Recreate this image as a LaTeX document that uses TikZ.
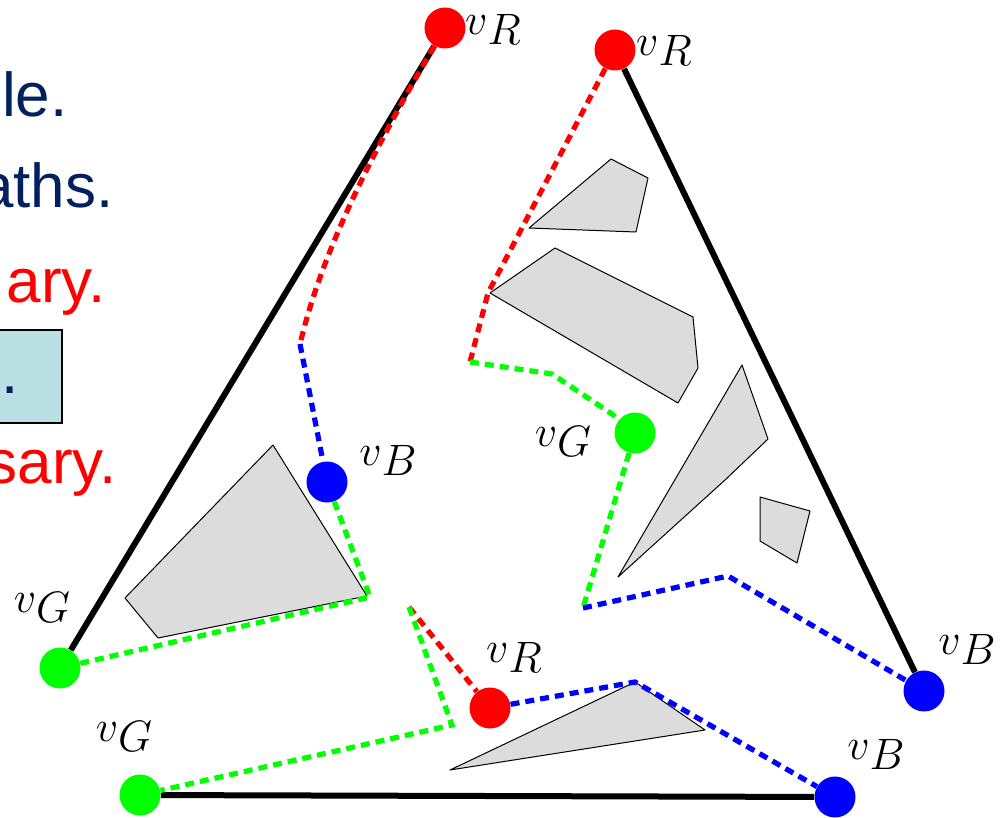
\RequirePackage{fix-cm}
\documentclass[tikz,border=0pt]{standalone}
\usepackage{fontspec}
\newfontfamily\slidefont{Liberation Sans}
\definecolor{navy}{RGB}{0,32,96}
\definecolor{boxblue}{RGB}{187,224,227}
\definecolor{obst}{RGB}{220,220,220}
\newcommand{\vsub}[1]{$v\raisebox{-5pt}{$#1$}$}

\begin{document}
\begin{tikzpicture}[x=0.5pt, y=-0.5pt,
  wall/.style={line width=3pt, black},
  obstacle/.style={draw=black, line width=0.5pt, fill=obst, line join=round},
  walk/.style={line width=2.6pt, dash pattern=on 4.5pt off 3pt},
  site/.style={circle, fill, inner sep=0pt, minimum size=20.5pt},
  vlabel/.style={font=\fontsize{22}{26}\selectfont, inner sep=0pt},
  slide/.style={font=\slidefont\fontsize{31}{37}\selectfont, inner sep=0pt, anchor=base east}]
  \useasboundingbox (0,0) rectangle (1006,818);

  % text lines on the left
  \node[slide, text=navy] (t1) at (68,117) {le.};
  \node[slide, text=navy] (t2) at (114,208) {aths.};
  \node[slide, text=red] (t3) at (106,302) {ary.};
  \node[slide, text=navy, anchor=east, draw=black, line width=1pt, fill=boxblue,
        inner xsep=21.5pt, text height=31.5pt, text depth=15pt] (t4) at (63,376.5) {.};
  \node[slide, text=red] (t5) at (117,483) {sary.};

  % obstacles
  \draw[obstacle] (273,445) -- (367,596) -- (158,638) -- (125,598) -- cycle;
  \draw[obstacle] (529,228) -- (611,159) -- (648,178) -- (636,232) -- cycle;
  \draw[obstacle] (490,293) -- (555,248) -- (693,317) -- (698,368) -- (678,403) -- cycle;
  \draw[obstacle] (742,365) -- (768,439) -- (725,480) -- (618,577) -- cycle;
  \draw[obstacle] (760,497) -- (810,511) -- (797,563) -- (760,541) -- cycle;
  \draw[obstacle] (450,770) -- (635,682) -- (705,730) -- cycle;

  % sites
  \node[site, red] (R1) at (445,28) {};
  \node[site, red] (R2) at (615,50) {};
  \node[site, red] (R3) at (490,708) {};
  \node[site, green] (G1) at (60,668) {};
  \node[site, green] (G2) at (635,433) {};
  \node[site, green] (G3) at (140,795) {};
  \node[site, blue] (B1) at (327,482) {};
  \node[site, blue] (B2) at (924,691) {};
  \node[site, blue] (B3) at (835,797) {};

  \node[vlabel] (lR1) at (493,29) {\vsub{R}};
  \node[vlabel] (lR2) at (664,50) {\vsub{R}};
  \node[vlabel] (lR3) at (514,657) {\vsub{R}};
  \node[vlabel] (lG1) at (42,607) {\vsub{G}};
  \node[vlabel] (lG2) at (563,441) {\vsub{G}};
  \node[vlabel] (lG3) at (124,736) {\vsub{G}};
  \node[vlabel] (lB1) at (388,460) {\vsub{B}};
  \node[vlabel] (lB2) at (967,649) {\vsub{B}};
  \node[vlabel] (lB3) at (876,754) {\vsub{B}};

  % walls
  \draw[wall] (R1) -- (G1);
  \draw[wall] (R2) -- (B2);
  \draw[wall] (G3) -- (B3);

  % left walk
  \coordinate (a2) at (300,344);
  \coordinate (a3) at (370,597);
  \draw[walk, red] (R1) .. controls (337,211) and (312,295) .. (a2);
  \draw[walk, blue] (a2) -- (B1);
  \draw[walk, green] (B1) -- (a3) -- (G1);

  % right walk
  \coordinate (b1) at (488,293);
  \coordinate (b2) at (470,362);
  \coordinate (b3) at (552,374);
  \coordinate (b4) at (612,414);
  \coordinate (b5) at (583,608);
  \coordinate (b6) at (728,576);
  \draw[walk, red] (R2) -- (b1) -- (b2);
  \draw[walk, green] (b2) -- (b3) -- (b4) -- (G2);
  \draw[walk, green] (G2) -- (b5);
  \draw[walk, blue] (b5) -- (b6) -- (B2);

  % bottom walk
  \coordinate (c1) at (409,607);
  \coordinate (c2) at (452,725);
  \coordinate (c3) at (635,682);
  \draw[walk, red] (c1) -- (R3);
  \draw[walk, green] (c1) -- (c2) -- (G3);
  \draw[walk, blue] (R3) -- (c3) -- (B3);
\end{tikzpicture}
\end{document}
